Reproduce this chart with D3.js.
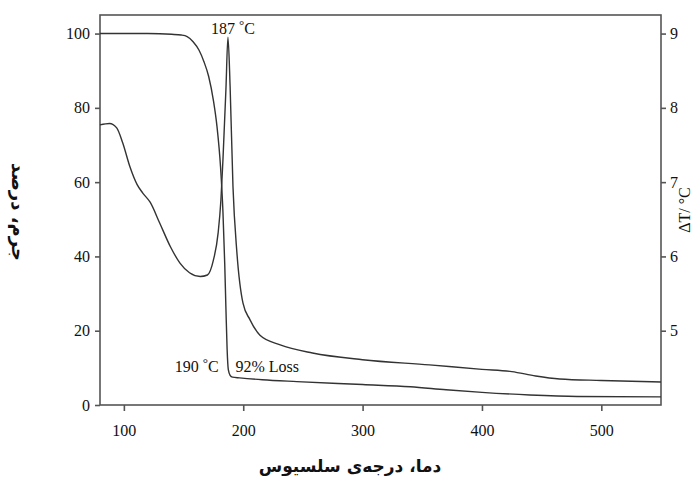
<!DOCTYPE html>
<html>
<head>
<meta charset="utf-8">
<script src="https://cdn.jsdelivr.net/npm/d3@7"></script>
<style>
  body { margin: 0; background: #fff; }
  svg { display: block; }
</style>
</head>
<body>
<svg id="chart"></svg>
<script>
// TG curve: temperature (°C) and weight (%)
const tgTemp = [80, 120, 140, 148, 153, 158, 163, 167, 171, 175, 178, 181, 183, 184.5, 185.5, 186.5, 187.5, 189, 191, 197, 216, 245, 300, 340, 370, 400, 440, 480, 550];
const tgWeight = [100, 100, 99.8, 99.6, 99.2, 97.8, 95.5, 92.5, 88.5, 82, 75, 64, 52, 38, 26, 15, 9.5, 8, 7.5, 7.3, 6.8, 6.3, 5.5, 4.9, 4.1, 3.4, 2.7, 2.3, 2.2];

// DTA curve: temperature (°C) and ΔT (°C)
const dtaTemp = [80, 88, 94, 99, 105, 111, 116, 122, 130, 139, 147, 155, 164, 170, 175, 179, 181.3, 183, 185.5, 187.2, 189, 191.4, 194.7, 199.8, 205.6, 214, 231, 258, 300, 356, 400, 425, 445, 465, 500, 550];
const dtaDelta = [7.77, 7.79, 7.73, 7.53, 7.21, 6.97, 6.85, 6.73, 6.45, 6.13, 5.91, 5.78, 5.73, 5.75, 5.95, 6.32, 6.76, 7.3, 8.25, 8.95, 8.29, 6.94, 6.05, 5.37, 5.15, 4.94, 4.81, 4.70, 4.61, 4.54, 4.48, 4.45, 4.39, 4.35, 4.33, 4.31];

const xTicks = [100, 200, 300, 400, 500];
const leftTicks = [0, 20, 40, 60, 80, 100];
const rightTicks = [5, 6, 7, 8, 9];

const width = 694, height = 486;
const margin = { top: 15, right: 33, bottom: 81, left: 100 };

const svg = d3.select("#chart").attr("width", width).attr("height", height);

const x = d3.scaleLinear().domain([80, 550]).range([margin.left, width - margin.right]);
const yL = d3.scaleLinear().domain([0, 105]).range([height - margin.bottom, margin.top]);
const yR = d3.scaleLinear().domain([4, 9.25]).range([height - margin.bottom, margin.top]);

const tickFont = "'Liberation Serif', 'Times New Roman', serif";

// frame
svg.append("rect")
  .attr("x", margin.left).attr("y", margin.top)
  .attr("width", width - margin.left - margin.right)
  .attr("height", height - margin.top - margin.bottom)
  .attr("fill", "none").attr("stroke", "#555").attr("stroke-width", 1.6);

function styleAxis(g) {
  g.select(".domain").remove();
  g.selectAll(".tick line").attr("stroke", "#555").attr("stroke-width", 1.6);
  g.selectAll(".tick text")
    .attr("fill", "#111")
    .style("font-family", tickFont)
    .style("font-size", "16px");
}

svg.append("g")
  .attr("transform", `translate(0,${height - margin.bottom})`)
  .call(d3.axisBottom(x).tickValues(xTicks).tickSize(6).tickPadding(14))
  .call(styleAxis);

svg.append("g")
  .attr("transform", `translate(${margin.left},0)`)
  .call(d3.axisLeft(yL).tickValues(leftTicks).tickSize(5).tickPadding(5))
  .call(styleAxis);

svg.append("g")
  .attr("transform", `translate(${width - margin.right},0)`)
  .call(d3.axisRight(yR).tickValues(rightTicks).tickFormat(d3.format("d")).tickSize(5).tickPadding(4))
  .call(styleAxis);

// curves
const tg = tgTemp.map((t, i) => [t, tgWeight[i]]);
const dta = dtaTemp.map((t, i) => [t, dtaDelta[i]]);

svg.append("path")
  .datum(tg)
  .attr("fill", "none").attr("stroke", "#333").attr("stroke-width", 1.4)
  .attr("d", d3.line().x(d => x(d[0])).y(d => yL(d[1])).curve(d3.curveMonotoneX));

svg.append("path")
  .datum(dta)
  .attr("fill", "none").attr("stroke", "#333").attr("stroke-width", 1.4)
  .attr("d", d3.line().x(d => x(d[0])).y(d => yR(d[1])).curve(d3.curveMonotoneX));

// annotations
function degLabel(xPos, yPos, num, anchor) {
  const t = svg.append("text")
    .attr("x", xPos).attr("y", yPos)
    .attr("text-anchor", anchor)
    .attr("fill", "#111")
    .style("font-family", tickFont)
    .style("font-size", "16px");
  t.append("tspan").text(num + " ");
  t.append("tspan").attr("dy", -5).style("font-size", "13px").text("°");
  t.append("tspan").attr("dy", 5).text("C");
  return t;
}
degLabel(x(187.2) - 17, 34, "187", "start");
degLabel(x(187) - 9, 372, "190", "end");

svg.append("text")
  .attr("x", x(193.5)).attr("y", 372)
  .attr("fill", "#111")
  .style("font-family", tickFont)
  .style("font-size", "16px")
  .text("92% Loss");

// axis titles
svg.append("text")
  .attr("transform", "translate(350,472)")
  .attr("text-anchor", "middle")
  .style("font-family", "'DejaVu Sans', sans-serif")
  .style("font-size", "17px")
  .style("font-weight", "bold")
  .attr("fill", "#111")
  .text("دما، درجه‌ی سلسیوس");

svg.append("text")
  .attr("transform", "translate(12,212) rotate(90)")
  .attr("text-anchor", "middle")
  .style("font-family", "'DejaVu Sans', sans-serif")
  .style("font-size", "18px")
  .style("font-weight", "bold")
  .attr("fill", "#111")
  .text("جرم، درصد");

svg.append("text")
  .attr("transform", "translate(690,210) rotate(-90)")
  .attr("text-anchor", "middle")
  .attr("fill", "#111")
  .style("font-family", tickFont)
  .style("font-size", "16px")
  .text("ΔT/ °C");
</script>
</body>
</html>
